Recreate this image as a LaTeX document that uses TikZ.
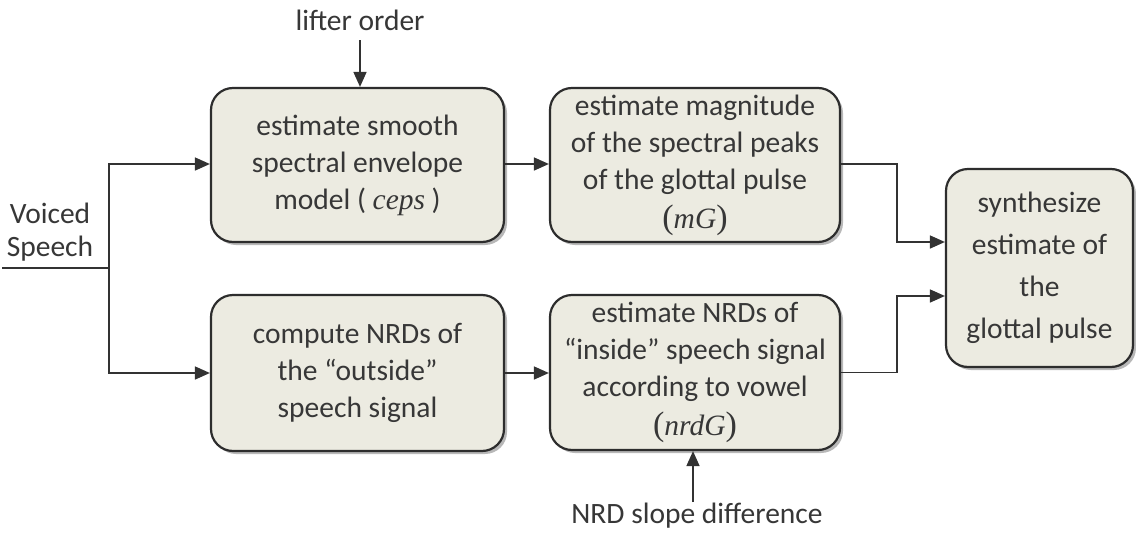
\documentclass[tikz,border=0pt]{standalone}
\usepackage{fontspec}
\setmainfont{Carlito}
\newfontfamily\serif{Liberation Serif}
\usetikzlibrary{arrows.meta,shadows,calc}
\definecolor{boxfill}{RGB}{236,235,225}
\definecolor{boxline}{RGB}{45,45,45}
\definecolor{txt}{RGB}{55,55,55}
\definecolor{conn}{RGB}{50,50,50}
\newcommand{\bigpar}[1]{{\serif\fontsize{34}{37}\selectfont #1}}
\begin{document}
\begin{tikzpicture}[x=1pt,y=-1pt,
  blk/.style={draw=boxline, line width=2.2pt, fill=boxfill, rounded corners=22pt,
    inner sep=0pt, align=center, text=txt, font=\fontsize{29.5}{37}\selectfont,
    drop shadow={shadow xshift=3pt, shadow yshift=-3pt, fill=black!55, opacity=0.5}},
  lbl/.style={text=txt, inner sep=0pt, align=center, font=\fontsize{29.5}{33}\selectfont},
  arr/.style={draw=conn, line width=1.6pt, -{Triangle[length=15pt,width=13pt]}},
  ln/.style={draw=conn, line width=1.6pt}]
\useasboundingbox (0,0) rectangle (1136,533);
\fill[white] (0,0) rectangle (1136,533);

\node[blk, minimum width=293pt, minimum height=154pt] (A) at (357.5,165)
  {estimate smooth\\spectral envelope\\model ( {\serif\itshape ceps} )};
\node[blk, minimum width=290pt, minimum height=154pt] (B) at (695,165)
  {estimate magnitude\\of the spectral peaks\\of the glottal pulse\\[2pt]\bigpar{(}{\serif\itshape mG}\bigpar{)}};
\node[blk, minimum width=293pt, minimum height=156pt] (D) at (357.5,373)
  {compute NRDs of\\the “outside”\\speech signal};
\node[blk, minimum width=290pt, minimum height=155pt] (E) at (695,372.5)
  {estimate NRDs of\\“inside” speech signal\\according to vowel\\[2pt]\bigpar{(}{\serif\itshape nrdG}\bigpar{)}};
\node[blk, minimum width=187pt, minimum height=198pt, font=\fontsize{29.5}{42}\selectfont] (C) at (1039.5,268)
  {synthesize\\estimate of\\the\\glottal pulse};

\node[lbl] (vs) at (50,232) {Voiced\\Speech};
\node[lbl] (lo) at (360,20) {lifter order};
\node[lbl] (nrd) at (697,516) {NRD slope difference};

\coordinate (vin) at (2,268);
\coordinate (br) at (109,268);
\draw[ln] (vin) -- (br);
\draw[arr] (br) |- ($(A.west)+(0,-1)$);
\draw[arr] (br) |- (D.west);
\draw[arr] ($(A.east)+(0,-1)$) -- ($(B.west)+(0,-1)$);
\draw[arr] (D.east) -- (E.west |- D.east);
\draw[arr] ($(B.east)+(0,-1)$) -- ++(56,0) |- ($(C.west)+(0,-26)$);
\draw[arr] ($(E.east)+(0,0)$) -- ++(56,0) |- ($(C.west)+(0,28)$);
\draw[arr] ([yshift=-20pt]lo.center) -- (lo.center |- A.north);
\draw[arr] ([xshift=-4pt,yshift=14pt]nrd.center) -- ([xshift=-4pt]nrd.center |- E.south);
\end{tikzpicture}
\end{document}
